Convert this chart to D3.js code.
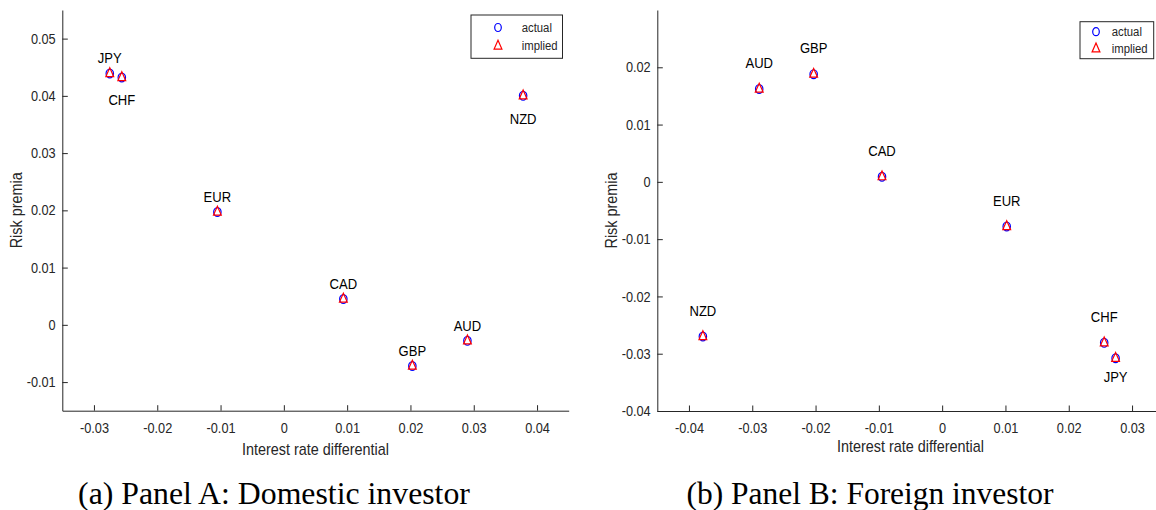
<!DOCTYPE html>
<html><head><meta charset="utf-8">
<script src="https://cdn.jsdelivr.net/npm/d3@7"></script>
<style>body{margin:0;background:#fff} svg{display:block}</style>
</head><body><svg id="c" width="1156" height="510"></svg>
<script>
// ---------------- data ----------------
const currencies = ["JPY", "CHF", "EUR", "CAD", "GBP", "AUD", "NZD"];

const domesticX       = [-0.0275, -0.0256, -0.0105, 0.0094, 0.0203, 0.0290, 0.0378];
const domesticActual  = [ 0.0439,  0.0432,  0.0197, 0.0045, -0.0072, -0.0028, 0.0400];
const domesticImplied = [ 0.0440,  0.0433,  0.0198, 0.0046, -0.0071, -0.0027, 0.0401];
const domesticLabelSide = ["above", "below", "above", "above", "above", "above", "below"];

const foreignX       = [0.0274, 0.0256, 0.0102, -0.0095, -0.0203, -0.0289, -0.0378];
const foreignActual  = [-0.0308, -0.0281, -0.0078, 0.0009, 0.0188, 0.0162, -0.0270];
const foreignImplied = [-0.0307, -0.0280, -0.0077, 0.0010, 0.0189, 0.0163, -0.0269];
const foreignLabelSide = ["below", "above", "above", "above", "above", "above", "above"];

const domesticXTicks = [-0.03, -0.02, -0.01, 0, 0.01, 0.02, 0.03, 0.04];
const domesticYTicks = [-0.01, 0, 0.01, 0.02, 0.03, 0.04, 0.05];
const foreignXTicks  = [-0.04, -0.03, -0.02, -0.01, 0, 0.01, 0.02, 0.03];
const foreignYTicks  = [-0.04, -0.03, -0.02, -0.01, 0, 0.01, 0.02];

const legendLabels = ["actual", "implied"];
const captions = ["(a) Panel A: Domestic investor", "(b) Panel B: Foreign investor"];
const xTitle = "Interest rate differential";
const yTitle = "Risk premia";

// ---------------- layout / style ----------------
const svg = d3.select("#c");
const AX = "#262626";
const SANS = "'Liberation Sans', Arial, Helvetica, sans-serif";

const panels = [
  { x: domesticX, actual: domesticActual, implied: domesticImplied, side: domesticLabelSide,
    xDom: [-0.035, 0.045], yDom: [-0.015, 0.055], xr: [62.3, 568.7], yr: [410.7, 10],
    xt: domesticXTicks, yt: domesticYTicks, above: -15.5, below: 22.5,
    xTitleY: 449, leg: { x: 471, y: 15, w: 91.5, h: 43.3, mx: 27, tx: 50.7, r1: 12.5, r2: 30.5 },
    cap: captions[0], capX: 274, capW: 392 },
  { x: foreignX, actual: foreignActual, implied: foreignImplied, side: foreignLabelSide,
    xDom: [-0.045, 0.035], yDom: [-0.04, 0.03], xr: [657.3, 1163.7], yr: [411, 10],
    xt: foreignXTicks, yt: foreignYTicks, above: -26, below: 18,
    xTitleY: 446, leg: { x: 1080, y: 21.7, w: 73.7, h: 37, mx: 16, tx: 31.7, r1: 10, r2: 26.6 },
    cap: captions[1], capX: 870, capW: 367 }
];

function triPath() {
  return "M0,-5.2L3.9,3.6L-3.9,3.6Z";
}
function sansText(sel, size, sx) {
  sel.attr("fill", AX).style("font-family", SANS).style("font-size", size + "px");
  return sel;
}

panels.forEach(p => {
  const x = d3.scaleLinear().domain(p.xDom).range(p.xr);
  const y = d3.scaleLinear().domain(p.yDom).range(p.yr);
  const g = svg.append("g");

  // axes
  const xa = g.append("g").attr("transform", `translate(0,${p.yr[0]})`)
    .call(d3.axisBottom(x).tickValues(p.xt).tickFormat(d => String(d))
      .tickSizeInner(-5.5).tickSizeOuter(0).tickPadding(12));
  const ya = g.append("g").attr("transform", `translate(${p.xr[0]},0)`)
    .call(d3.axisLeft(y).tickValues(p.yt).tickFormat(d => String(d))
      .tickSizeInner(-5.5).tickSizeOuter(0).tickPadding(7.5));
  [xa, ya].forEach(a => {
    a.select(".domain").attr("stroke", AX).attr("stroke-width", 1);
    a.selectAll(".tick line").attr("stroke", AX).attr("stroke-width", 1);
    a.selectAll(".tick text").attr("fill", AX).style("font-family", SANS).style("font-size", "14.5px")
      .attr("transform", "scale(0.88,1)");
  });

  // axis titles
  g.append("text")
    .attr("transform", `translate(${(p.xr[0] + p.xr[1]) / 2},${p.xTitleY}) scale(0.9,1)`)
    .attr("text-anchor", "middle").attr("dominant-baseline", "central")
    .attr("fill", AX).style("font-family", SANS).style("font-size", "16px").text(xTitle);
  g.append("text")
    .attr("transform", `translate(${p.xr[0] - 46.4},${(p.yr[0] + p.yr[1]) / 2}) rotate(-90) scale(0.9,1)`)
    .attr("text-anchor", "middle").attr("dominant-baseline", "central")
    .attr("fill", AX).style("font-family", SANS).style("font-size", "16px").text(yTitle);

  // markers
  const idx = d3.range(currencies.length);
  g.selectAll("ellipse.act").data(idx).join("ellipse").attr("class", "act")
    .attr("cx", i => x(p.x[i])).attr("cy", i => y(p.actual[i])).attr("rx", 3.7).attr("ry", 4.4)
    .attr("fill", "none").attr("stroke", "#0000ff").attr("stroke-width", 1.2);
  g.selectAll("path.imp").data(idx).join("path").attr("class", "imp")
    .attr("transform", i => `translate(${x(p.x[i])},${y(p.implied[i])})`)
    .attr("d", triPath())
    .attr("fill", "none").attr("stroke", "#ff0000").attr("stroke-width", 1.2);

  // currency labels
  g.selectAll("text.lab").data(idx).join("text").attr("class", "lab")
    .attr("transform", i => `translate(${x(p.x[i])},${y(p.actual[i]) + (p.side[i] === "above" ? p.above : p.below)}) scale(0.87,1)`)
    .attr("text-anchor", "middle").attr("dominant-baseline", "central")
    .attr("fill", "#000").style("font-family", SANS).style("font-size", "15px")
    .text(i => currencies[i]);

  // legend
  const L = p.leg;
  const lg = g.append("g").attr("transform", `translate(${L.x},${L.y})`);
  lg.append("rect").attr("x", 0).attr("y", 0).attr("width", L.w).attr("height", L.h)
    .attr("fill", "#fff").attr("stroke", AX).attr("stroke-width", 1);
  lg.append("ellipse").attr("cx", L.mx).attr("cy", L.r1).attr("rx", 3.3).attr("ry", 4)
    .attr("fill", "none").attr("stroke", "#0000ff").attr("stroke-width", 1.2);
  lg.append("path").attr("transform", `translate(${L.mx},${L.r2})`).attr("d", triPath())
    .attr("fill", "none").attr("stroke", "#ff0000").attr("stroke-width", 1.2);
  [L.r1, L.r2].forEach((ry, k) => {
    lg.append("text").attr("transform", `translate(${L.tx},${ry}) scale(0.84,1)`)
      .attr("dominant-baseline", "central")
      .attr("fill", AX).style("font-family", SANS).style("font-size", "13.5px").text(legendLabels[k]);
  });

  // caption
  const cap = svg.append("text").attr("x", p.capX).attr("y", 493)
    .attr("text-anchor", "middle").attr("dominant-baseline", "central")
    .attr("fill", "#000").style("font-family", "'Liberation Serif', 'DejaVu Serif', serif")
    .style("font-size", "26px").text(p.cap);
  const w = cap.node().getComputedTextLength();
  cap.style("font-size", (26 * p.capW / w).toFixed(2) + "px");
});
</script>
</body></html>
